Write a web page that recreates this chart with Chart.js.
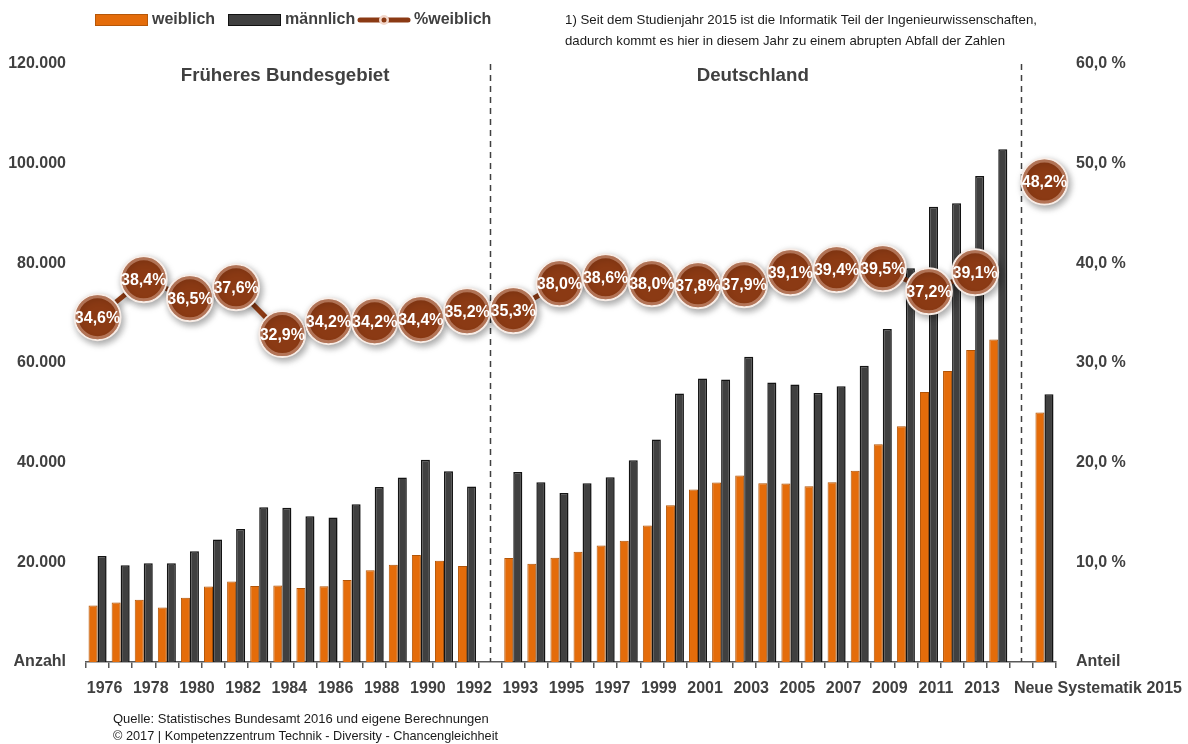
<!DOCTYPE html>
<html lang="de">
<head>
<meta charset="utf-8">
<title>Studierende Ingenieurwissenschaften 1976-2015</title>
<script src="https://cdn.jsdelivr.net/npm/chart.js@4.4.1/dist/chart.umd.min.js"></script>
<style>
  html, body { margin: 0; padding: 0; background: #fff; }
</style>
</head>
<body>
<canvas id="chart" width="1188" height="744"></canvas>
<script>
// Studienanfänger/innen Ingenieurwissenschaften, weiblich / männlich, Anteil Frauen

// categories: '' marks the empty slot between the sections
const categories = [
  '1976', '1977', '1978', '1979', '1980', '1981', '1982', '1983', '1984',
  '1985', '1986', '1987', '1988', '1989', '1990', '1991', '1992',
  '',
  '1993', '1994', '1995', '1996', '1997', '1998', '1999', '2000', '2001',
  '2002', '2003', '2004', '2005', '2006', '2007', '2008', '2009', '2010',
  '2011', '2012', '2013', '2014',
  '',
  'Neue Systematik 2015'
];

const weiblich = [
  11340, 11930, 12470, 10930, 12870, 15130, 16130, 15270, 15330,
  14870, 15200, 16470, 18400, 19530, 21470, 20330, 19270,
  null,
  20870, 19730, 20930, 22130, 23400, 24330, 27400, 31470, 34600,
  36000, 37400, 35870, 35800, 35270, 36070, 38400, 43700, 47300,
  54200, 58400, 62600, 64730,
  null,
  50070
];

const maennlich = [
  21270, 19400, 19800, 19800, 22200, 24600, 26670, 31070, 30930,
  29270, 29000, 31670, 35130, 37000, 40600, 38270, 35200,
  null,
  38130, 36070, 33930, 35870, 37070, 40470, 44670, 53870, 56870,
  56670, 61270, 56070, 55670, 54000, 55330, 59470, 66800, 79000,
  91330, 92070, 97530, 102870,
  null,
  53730
];

// Anteil weiblich in %, only every second year is labelled
const anteilWeiblich = [
  34.6, null, 38.4, null, 36.5, null, 37.6, null, 32.9,
  null, 34.2, null, 34.2, null, 34.4, null, 35.2,
  null,
  35.3, null, 38.0, null, 38.6, null, 38.0, null, 37.8,
  null, 37.9, null, 39.1, null, 39.4, null, 39.5, null,
  37.2, null, 39.1, null,
  null,
  48.2
];

// x labels that are printed under the axis
const shownLabels = [
  '1976', '1978', '1980', '1982', '1984', '1986', '1988', '1990', '1992',
  '1993', '1995', '1997', '1999', '2001', '2003', '2005', '2007', '2009',
  '2011', '2013', 'Neue Systematik 2015'
];

const anzahlTicks = ['Anzahl', '20.000', '40.000', '60.000', '80.000', '100.000', '120.000'];
const anteilTicks = ['Anteil', '10,0 %', '20,0 %', '30,0 %', '40,0 %', '50,0 %', '60,0 %'];

const sections = ['Früheres Bundesgebiet', 'Deutschland'];

const TEXT = '#404040';
const ORANGE = '#e46c0a';
const DARK = '#404040';
const BROWN = '#8b3a14';
const FONT = '"Liberation Sans", Arial, sans-serif';

const gapIndexes = categories.map((c, i) => c === '' ? i : -1).filter(i => i >= 0);

function fmtPercent(v) {
  return v.toFixed(1).replace('.', ',') + '%';
}

// previous index that holds a percentage value
function prevValueIndex(i) {
  for (let k = i - 1; k >= 0; k--) {
    if (anteilWeiblich[k] !== null) return k;
  }
  return -1;
}

// soft shadows behind bars and bubbles
const shadowPlugin = {
  id: 'shadows',
  beforeDatasetDraw(chart, args) {
    const ctx = chart.ctx;
    ctx.save();
    if (chart.data.datasets[args.index].type === 'line') {
      ctx.shadowColor = 'rgba(0,0,0,0.35)';
      ctx.shadowBlur = 7;
      ctx.shadowOffsetX = 2;
      ctx.shadowOffsetY = 3;
    } else {
      ctx.shadowColor = 'rgba(0,0,0,0.2)';
      ctx.shadowBlur = 6;
      ctx.shadowOffsetX = 5;
      ctx.shadowOffsetY = 0;
    }
  },
  afterDatasetDraw(chart) {
    chart.ctx.restore();
  }
};

// dashed separators in the empty slots
const dividerPlugin = {
  id: 'dividers',
  beforeDatasetsDraw(chart) {
    const ctx = chart.ctx;
    const x = chart.scales.x;
    const area = chart.chartArea;
    ctx.save();
    ctx.strokeStyle = '#404040';
    ctx.lineWidth = 1.5;
    ctx.setLineDash([6, 5]);
    gapIndexes.forEach(i => {
      const px = Math.round(x.getPixelForValue(i)) + 0.5;
      ctx.beginPath();
      ctx.moveTo(px, area.top);
      ctx.lineTo(px, area.bottom);
      ctx.stroke();
    });
    ctx.restore();
  }
};

// percentage text inside the bubbles
const bubbleLabelPlugin = {
  id: 'bubbleLabels',
  afterDatasetsDraw(chart) {
    const ctx = chart.ctx;
    const meta = chart.getDatasetMeta(2);
    ctx.save();
    meta.data.forEach((pt, i) => {
      const v = anteilWeiblich[i];
      if (v === null) return;
      ctx.beginPath();
      ctx.arc(pt.x, pt.y, 20.5, 0, Math.PI * 2);
      ctx.strokeStyle = 'rgba(235,190,170,0.45)';
      ctx.lineWidth = 3;
      ctx.stroke();
      ctx.fillStyle = '#ffffff';
      ctx.font = 'bold 16px ' + FONT;
      ctx.textAlign = 'center';
      ctx.textBaseline = 'middle';
      ctx.fillText(fmtPercent(v), pt.x, pt.y + 1);
    });
    ctx.restore();
  }
};

// legend, titles, note, x labels and source
const textPlugin = {
  id: 'texts',
  afterDraw(chart) {
    const ctx = chart.ctx;
    const x = chart.scales.x;
    const area = chart.chartArea;
    ctx.save();

    // legend
    ctx.font = 'bold 16px ' + FONT;
    ctx.textBaseline = 'middle';
    ctx.textAlign = 'left';
    ctx.lineWidth = 1;
    ctx.fillStyle = ORANGE;
    ctx.fillRect(95, 14, 53, 12);
    ctx.strokeStyle = '#b65708';
    ctx.strokeRect(95.5, 14.5, 52, 11);
    ctx.fillStyle = TEXT;
    ctx.fillText('weiblich', 152, 20);

    ctx.fillStyle = DARK;
    ctx.fillRect(228, 14, 53, 12);
    ctx.strokeStyle = '#111';
    ctx.strokeRect(228.5, 14.5, 52, 11);
    ctx.fillStyle = TEXT;
    ctx.fillText('männlich', 285, 20);

    ctx.strokeStyle = BROWN;
    ctx.lineWidth = 5;
    ctx.lineCap = 'round';
    ctx.beginPath();
    ctx.moveTo(360, 20);
    ctx.lineTo(408, 20);
    ctx.stroke();
    ctx.beginPath();
    ctx.arc(384, 20, 5, 0, Math.PI * 2);
    ctx.fillStyle = '#f2d7cb';
    ctx.fill();
    ctx.beginPath();
    ctx.arc(384, 20, 2.5, 0, Math.PI * 2);
    ctx.fillStyle = BROWN;
    ctx.fill();
    ctx.fillStyle = TEXT;
    ctx.fillText('%weiblich', 414, 20);

    // note
    ctx.fillStyle = '#1a1a1a';
    ctx.font = '13.5px ' + FONT;
    ctx.fillText('1) Seit dem Studienjahr 2015 ist die Informatik Teil der Ingenieurwissenschaften,', 565, 20, 472);
    ctx.fillText('dadurch kommt es hier in diesem Jahr zu einem abrupten Abfall der Zahlen', 565, 41, 440);

    // section titles
    ctx.fillStyle = TEXT;
    ctx.font = 'bold 18.7px ' + FONT;
    ctx.textAlign = 'center';
    const g0 = x.getPixelForValue(gapIndexes[0]);
    const g1 = x.getPixelForValue(gapIndexes[1]);
    ctx.fillText(sections[0], (area.left + g0) / 2 - 3, 76);
    ctx.fillText(sections[1], (g0 + g1) / 2 - 3, 76);

    // x labels
    ctx.font = 'bold 16px ' + FONT;
    categories.forEach((c, i) => {
      if (!shownLabels.includes(c)) return;
      if (i === categories.length - 1) {
        ctx.textAlign = 'right';
        ctx.fillText(c, chart.width - 6, area.bottom + 27);
      } else {
        ctx.textAlign = 'center';
        ctx.fillText(c, x.getPixelForValue(i) + 7, area.bottom + 27);
      }
    });

    // source
    ctx.fillStyle = '#1a1a1a';
    ctx.font = '13px ' + FONT;
    ctx.textAlign = 'left';
    ctx.fillText('Quelle: Statistisches Bundesamt 2016 und eigene Berechnungen', 113, 719, 380);
    ctx.fillText('© 2017 | Kompetenzzentrum Technik - Diversity - Chancengleichheit', 113, 736, 385);
    ctx.restore();
  }
};

new Chart(document.getElementById('chart'), {
  type: 'bar',
  data: {
    labels: categories,
    datasets: [
      {
        type: 'bar',
        label: 'weiblich',
        data: weiblich,
        backgroundColor: ORANGE,
        borderColor: '#b65708',
        borderWidth: 1,
        yAxisID: 'y',
        order: 1,
        categoryPercentage: 0.78,
        barPercentage: 1.0
      },
      {
        type: 'bar',
        label: 'männlich',
        data: maennlich,
        backgroundColor: DARK,
        borderColor: '#151515',
        borderWidth: 1.5,
        yAxisID: 'y',
        order: 2,
        categoryPercentage: 0.78,
        barPercentage: 1.0
      },
      {
        type: 'line',
        label: '%weiblich',
        data: anteilWeiblich,
        yAxisID: 'y1',
        order: 0,
        spanGaps: true,
        borderColor: BROWN,
        borderWidth: 5,
        tension: 0,
        pointRadius: 23,
        pointHoverRadius: 23,
        pointBackgroundColor: BROWN,
        pointBorderColor: '#f7ece6',
        pointBorderWidth: 2,
        segment: {
          // no connecting line into the new-systematics column
          borderColor: ctx => {
            const from = prevValueIndex(ctx.p1DataIndex);
            const crossesGap = gapIndexes.some(g => g > from && g < ctx.p1DataIndex);
            return crossesGap && ctx.p1DataIndex === categories.length - 1 ? 'rgba(0,0,0,0)' : undefined;
          }
        }
      }
    ]
  },
  options: {
    responsive: false,
    animation: false,
    layout: { padding: { top: 64, left: 8, right: 0, bottom: 76 } },
    plugins: {
      legend: { display: false },
      tooltip: { enabled: false }
    },
    scales: {
      x: {
        type: 'category',
        offset: true,
        grid: {
          display: true,
          offset: true,
          drawOnChartArea: false,
          drawTicks: true,
          tickLength: 6,
          color: '#595959',
          lineWidth: 1.5
        },
        border: { display: true, color: '#595959', width: 1.5 },
        ticks: { display: false, autoSkip: false }
      },
      y: {
        position: 'left',
        min: 0,
        max: 120000,
        grid: { display: false },
        border: { display: false },
        afterFit: scale => { scale.width = 78; },
        ticks: {
          stepSize: 20000,
          padding: 12,
          color: TEXT,
          font: { family: FONT, size: 16, weight: 'bold' },
          callback: (value, index) => anzahlTicks[index]
        }
      },
      y1: {
        position: 'right',
        min: 0,
        max: 60,
        grid: { display: false },
        border: { display: false },
        afterFit: scale => { scale.width = 132; },
        ticks: {
          stepSize: 10,
          padding: 12,
          color: TEXT,
          font: { family: FONT, size: 16, weight: 'bold' },
          callback: (value, index) => anteilTicks[index]
        }
      }
    }
  },
  plugins: [shadowPlugin, dividerPlugin, bubbleLabelPlugin, textPlugin]
});
</script>
</body>
</html>
